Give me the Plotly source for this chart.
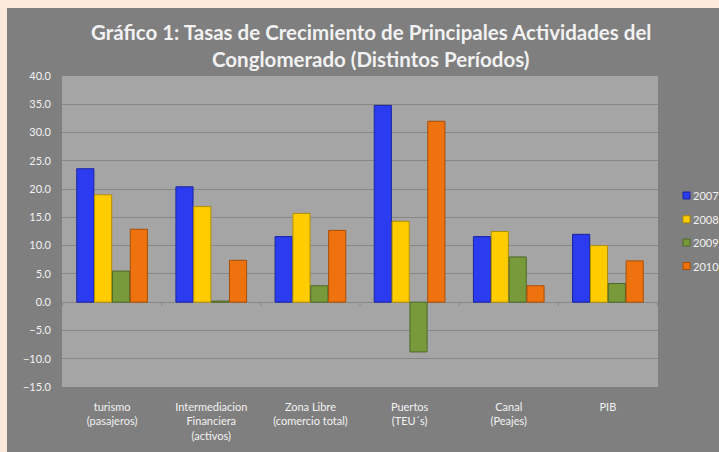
import plotly.graph_objects as go

categories = ["turismo<br>(pasajeros)", "Intermediacion<br>Financiera<br>(activos)",
              "Zona Libre<br>(comercio total)", "Puertos<br>(TEU´s)", "Canal<br>(Peajes)", "PIB"]
series_names = ["2007", "2008", "2009", "2010"]
v2007 = [23.6, 20.4, 11.6, 34.8, 11.6, 12.0]
v2008 = [19.0, 16.9, 15.7, 14.3, 12.5, 10.0]
v2009 = [5.5, 0.2, 2.9, -8.8, 8.0, 3.3]
v2010 = [12.9, 7.4, 12.7, 32.0, 2.9, 7.3]
colors = ["#2B3BEF", "#FFCC00", "#789A3A", "#EE720E"]
edges = ["#1A24A0", "#B08E00", "#4F6726", "#A84E08"]

title_line1 = "Gráfico 1: Tasas de Crecimiento de Principales Actividades del"
title_line2 = "Conglomerado (Distintos Períodos)"

FONT = "Lato, Liberation Sans Narrow, sans-serif"
TXT = "#F2F2F2"
PEACH = "#FCE9DB"

W, H = 719, 452
L, R, T, B = 62, 719 - 658, 76, 452 - 387
pw, ph = W - L - R, H - T - B


def px_x(p):  # screen px -> paper x
    return (p - L) / pw


def px_y(p):  # screen px -> paper y
    return (H - B - p) / ph


fig = go.Figure()
for name, vals, c, e in zip(series_names, [v2007, v2008, v2009, v2010], colors, edges):
    fig.add_trace(go.Bar(x=categories, y=vals, name=name, showlegend=False,
                         marker=dict(color=c, line=dict(color=e, width=1))))

# peach page border (top and left)
fig.add_shape(type="rect", xref="paper", yref="paper", x0=px_x(-5), x1=px_x(W + 5),
              y0=px_y(8), y1=px_y(-5), fillcolor=PEACH, line_width=0, layer="below")
fig.add_shape(type="rect", xref="paper", yref="paper", x0=px_x(-5), x1=px_x(7),
              y0=px_y(H + 5), y1=px_y(-5), fillcolor=PEACH, line_width=0, layer="below")

# small category-boundary ticks under the zero line
for i in range(len(categories) + 1):
    fig.add_shape(type="line", xref="x", yref="y", x0=i - 0.5, x1=i - 0.5, y0=0, y1=-0.7,
                  line=dict(color="#878787", width=1))

# custom legend
legend_y = [195.5, 219.3, 242.5, 266]
for name, c, e, yy in zip(series_names, colors, edges, legend_y):
    fig.add_shape(type="rect", xref="paper", yref="paper",
                  x0=px_x(683), x1=px_x(690), y0=px_y(yy + 3.5), y1=px_y(yy - 3.5),
                  fillcolor=c, line=dict(color=e, width=1))
    fig.add_annotation(text=name, xref="paper", yref="paper", x=px_x(691), y=px_y(yy),
                       xanchor="left", yanchor="middle", showarrow=False,
                       font=dict(family=FONT, size=11, color=TXT))

# title (two lines)
for txt, yy in [(title_line1, 32), (title_line2, 59.5)]:
    fig.add_annotation(text=txt, xref="paper", yref="paper", x=px_x(371), y=px_y(yy),
                       xanchor="center", yanchor="middle", showarrow=False,
                       font=dict(family=FONT, size=20.5, color=TXT, weight="bold"))

fig.update_layout(
    width=W, height=H,
    margin=dict(l=L, r=R, t=T, b=B, autoexpand=False),
    paper_bgcolor="#7F7F7F",
    plot_bgcolor="#A5A5A5",
    barmode="group", bargap=0.28, bargroupgap=0.04,
    font=dict(family=FONT, color=TXT, size=11),
    showlegend=False,
)
fig.update_yaxes(range=[-15, 40], dtick=5, tickformat=".1f", showgrid=True,
                 gridcolor="#878787", gridwidth=1, zeroline=True, zerolinecolor="#878787",
                 zerolinewidth=1, showline=False, ticks="", tickfont=dict(size=11, color=TXT),
                 ticklabelstandoff=10)
fig.update_xaxes(showgrid=False, showline=False, ticks="", tickfont=dict(size=11, color=TXT),
                 ticklabelstandoff=12)

fig.write_html("out.html", config={"displayModeBar": False},
               post_script="document.body.style.margin='0';"
                           "document.body.style.overflow='hidden';"
                           f"document.body.style.background='{PEACH}';")
